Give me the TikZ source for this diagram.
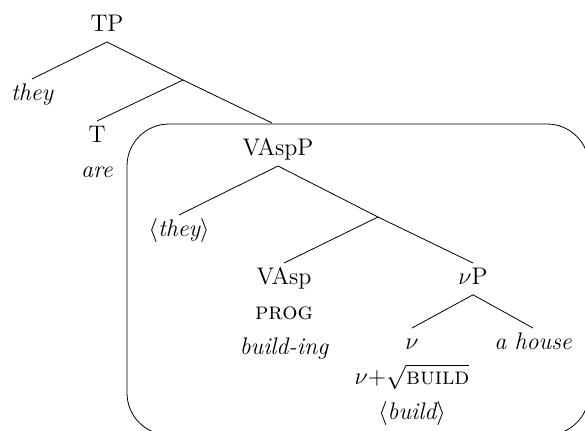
\documentclass[tikz,border=0pt]{standalone}
\usepackage{amsmath}
\usepackage{fontspec}
\usetikzlibrary{positioning}

\begin{document}
\begin{tikzpicture}
[
x=0.5pt, y=-0.5pt,
word-a/.style={text height=8.5pt, text depth=3pt, inner sep=2pt, font=\fontsize{12}{14.4}\selectfont},
word-b/.style={word-a, font=\fontsize{12}{14.4}\selectfont\itshape},
frame-a/.style={draw, rounded corners=21pt}
]
\useasboundingbox (0,0) rectangle (585,430);
\clip (0,0) rectangle (585,430);
\draw [frame-a] (127,124) rectangle (589,435);
\node (tp)        [word-a, anchor=south  ] at (107,42)  {TP};
\node (they)      [word-b, anchor=north  ] at (32,79)   {they};
\coordinate (tbar) at (183,80);
\node (t)         [word-a, anchor=north  ] at (97,121)  {T};
\node (are)       [word-b, below = 1.5pt of t] {are};
\coordinate (vaspp-top) at (272,123);
\node (vaspp)     [word-a, anchor=south  ] at (278,166) {VAspP};
\node (they-2)    [word-b, anchor=north  ] at (179,215) {$\langle$they$\rangle$};
\coordinate (vbar) at (378,217);
\node (vasp)      [word-a, anchor=north  ] at (284,263) {VAsp};
\node (prog)      [word-a, below = 1.5pt of vasp     ] {\textsc{prog}};
\node (build-ing) [word-b, below = 1.5pt of prog     ] {build-ing};
\node (vp)        [word-a, anchor=north  ] at (473,263) {$\nu$P};
\node (v)         [word-a, anchor=north  ] at (412,328) {$\nu$};
\node (house)     [word-b, anchor=north  ] at (533,328) {a house};
\node (v-root)    [word-a, below = 1.5pt of v        ] {$\nu$+$\sqrt{\text{\textsc{build}}}$};
\node (build)     [word-b, below = 1.5pt of v-root   ] {$\langle$build$\rangle$};
\draw (tp.south)    -- (they.north);
\draw (tp.south)    -- (tbar);
\draw (tbar)        -- (t.north);
\draw (tbar)        -- (vaspp-top);
\draw (vaspp.south) -- (they-2.north);
\draw (vaspp.south) -- (vbar);
\draw (vbar)        -- (vasp.north);
\draw (vbar)        -- (vp.north);
\draw (vp.south)    -- (v.north);
\draw (vp.south)    -- (house.north);
\end{tikzpicture}
\end{document}
